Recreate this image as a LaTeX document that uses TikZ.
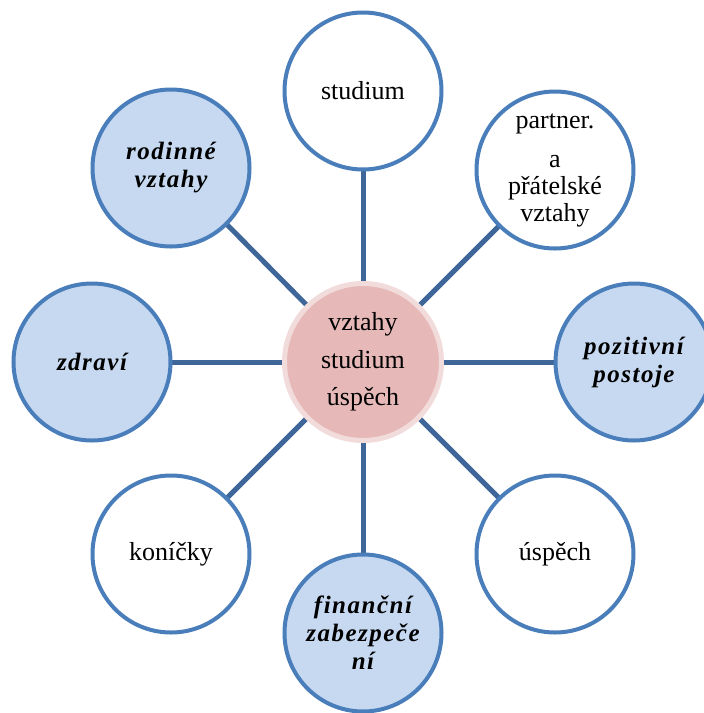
\documentclass[tikz,border=0pt]{standalone}
\usepackage{fontspec}
\setmainfont{Liberation Serif}
\usetikzlibrary{backgrounds}
\definecolor{edgeblue}{HTML}{4A7EBB}
\definecolor{fillblue}{HTML}{C6D9F1}
\definecolor{linkblue}{HTML}{3F6699}
\definecolor{pinkfill}{HTML}{E6B9B8}
\definecolor{pinkedge}{HTML}{F2DCDB}
\begin{document}
\begin{tikzpicture}[x=1pt,y=-1pt,
  bubble/.style={circle, draw=edgeblue, line width=4pt, minimum size=157pt, inner sep=0pt, outer sep=0pt, align=center, fill=white, font=\fontsize{26}{27}\selectfont},
  bluebubble/.style={bubble, fill=fillblue, font=\bfseries\itshape\fontsize{25}{28}\selectfont\addfontfeature{LetterSpace=6}},
  hub/.style={circle, draw=pinkedge, line width=5pt, fill=pinkfill, minimum size=157pt, inner sep=0pt, outer sep=0pt, align=center, font=\fontsize{26}{37.5}\selectfont},
  link/.style={draw=linkblue, line width=5pt}]
\useasboundingbox (0,0) rectangle (704,713);
\node[hub] (c) at (363,362) {vztahy\\studium\\úspěch};
\node[bubble] (n) at (363,91) {studium};
\node[bubble] (ne) at (555,170) {partner.\\[12pt]a\\přátelské\\vztahy};
\node[bluebubble] (e) at (634,362) {pozitivní\\postoje};
\node[bubble] (se) at (555,554) {úspěch};
\node[bluebubble] (s) at (363,633) {finanční\\zabezpeče\\ní};
\node[bubble] (sw) at (171,554) {koníčky};
\node[bluebubble] (w) at (92,362) {zdraví};
\node[bluebubble] (nw) at (171,168) {rodinné\\vztahy};
\begin{pgfonlayer}{background}
\foreach \t in {n,ne,e,se,s,sw,w,nw}{
  \draw[link] (c) -- (\t);
}
\end{pgfonlayer}
\end{tikzpicture}
\end{document}
